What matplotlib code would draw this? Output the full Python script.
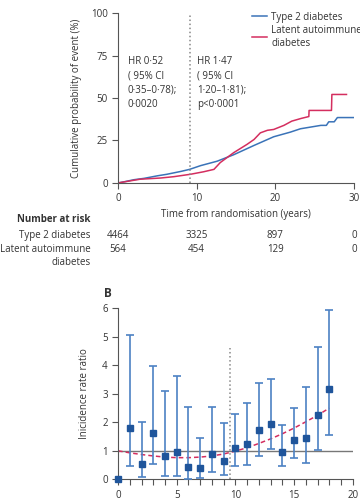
import matplotlib
matplotlib.use("Agg")
from matplotlib import pyplot as plt
import numpy as np

plt.rcParams['font.family'] = ['Open Sans', 'DejaVu Sans']
plt.rcParams['font.size'] = 7
plt.rcParams['text.color'] = '#333333'
plt.rcParams['axes.labelcolor'] = '#333333'
plt.rcParams['xtick.color'] = '#333333'
plt.rcParams['ytick.color'] = '#333333'

# panel A: cumulative probability (%)
t2d_t = [0, 1, 2, 3.3, 5, 6.2, 8, 9.1, 10.5, 12.6, 14.7, 17.3, 19.8, 21.9, 23.2, 25.8, 26.5, 26.8, 27.5, 27.9, 30]
t2d_p = [0, 0.9, 1.9, 2.7, 4.2, 5.1, 6.8, 8.0, 10.2, 12.8, 16.6, 22.1, 27.2, 29.9, 31.9, 33.9, 33.9, 36.0, 36.0, 38.5, 38.5]
lada_t = [0, 1, 2.8, 5.4, 7.1, 9.2, 10.9, 12.2, 13.0, 14.7, 16.4, 17.3, 18.1, 19.0, 19.8, 21.1, 22.1, 23.3, 24.27, 24.3, 27.15, 27.2, 29.06]
lada_p = [0, 0.8, 2.2, 2.9, 3.7, 5.1, 6.6, 8.0, 12.0, 17.8, 22.7, 25.6, 29.5, 31.0, 31.5, 33.9, 36.4, 38.0, 39.1, 42.7, 42.7, 52.1, 52.1]

risk_times = [0, 10, 20, 30]
risk_t2d = [4464, 3325, 897, 0]
risk_lada = [564, 454, 129, 0]

# panel B: incidence rate ratio by year
years = list(range(19))
irr = [0, 1.79, 0.54, 1.61, 0.82, 0.95, 0.43, 0.39, 0.90, 0.64, 1.09, 1.23, 1.73, 1.95, 0.97, 1.38, 1.46, 2.27, 3.17]
irr_lo = [0, 0.48, 0.09, 0.54, 0.12, 0.13, 0.01, 0.03, 0.25, 0.15, 0.47, 0.50, 0.83, 1.05, 0.48, 0.74, 0.57, 1.03, 1.56]
irr_hi = [0, 5.06, 2.02, 3.98, 3.10, 3.64, 2.53, 1.46, 2.55, 1.99, 2.30, 2.67, 3.37, 3.52, 1.89, 2.51, 3.24, 4.63, 5.96]
fit = [1.0, 0.93, 0.87, 0.82, 0.78, 0.76, 0.76, 0.78, 0.82, 0.89, 0.99, 1.11, 1.26, 1.42, 1.60, 1.80, 2.02, 2.25, 2.50]

blue = '#3a73b8'
red = '#d42e5f'
grey = '#555555'

fig = plt.figure(figsize=(3.6, 5.04), dpi=100)

# ---- panel A ----
ax = fig.add_axes([0.328, 0.637, 0.655, 0.337])
ax.plot(t2d_t, t2d_p, color=blue, lw=1.1, label='Type 2 diabetes')
ax.plot(lada_t, lada_p, color=red, lw=1.1, label='Latent autoimmune\ndiabetes')
ax.axvline(9.1, color='#888888', ls=':', lw=1.1)
ax.set_xlim(0, 30)
ax.set_ylim(0, 100)
ax.set_xticks([0, 10, 20, 30])
ax.set_yticks([0, 25, 50, 75, 100])
ax.spines['top'].set_visible(False)
ax.spines['right'].set_visible(False)
for s in ['left', 'bottom']:
    ax.spines[s].set_color(grey)
ax.tick_params(length=4, width=0.8, color=grey)
ax.set_ylabel('Cumulative probability of event (%)', labelpad=6)
ax.set_xlabel('Time from randomisation (years)', labelpad=3)
ax.legend(loc='upper left', bbox_to_anchor=(0.53, 1.06), frameon=False,
          handlelength=1.6, handletextpad=0.4, labelspacing=0.25, fontsize=7)

ax.text(1.2, 75, 'HR 0·52\n( 95% CI\n0·35–0·78);\n0·0020', va='top', linespacing=1.45)
ax.text(10.0, 75, 'HR 1·47\n( 95% CI\n1·20–1·81);\np<0·0001', va='top', linespacing=1.45)

# number at risk table
ax.text(-3.5, -21.8, 'Number at risk', ha='right', va='center', fontweight='bold', clip_on=False)
ax.text(-3.5, -31.2, 'Type 2 diabetes', ha='right', va='center', clip_on=False)
ax.text(-3.5, -39.4, 'Latent autoimmune', ha='right', va='center', clip_on=False)
ax.text(-3.5, -47.0, 'diabetes', ha='right', va='center', clip_on=False)
for t, a, b in zip(risk_times, risk_t2d, risk_lada):
    ax.text(t, -31.2, str(a), ha='center', va='center', clip_on=False)
    ax.text(t, -39.4, str(b), ha='center', va='center', clip_on=False)

# ---- panel B ----
bx = fig.add_axes([0.328, 0.049, 0.652, 0.339])
bx.axhline(1, color='#777777', lw=1.0, zorder=1)
bx.plot([9.5, 9.5], [0, 4.6], color='#888888', ls=':', lw=1.1, zorder=1)
bx.plot(years, fit, color=red, ls=(0, (3, 2)), lw=1.1, zorder=2)
yerr = [np.array(irr) - np.array(irr_lo), np.array(irr_hi) - np.array(irr)]
bx.errorbar(years, irr, yerr=yerr, fmt='none', ecolor='#4d82c4', elinewidth=1.2,
            capsize=3, capthick=1.2, zorder=3)
bx.plot(years, irr, 's', color='#1f559b', ms=5, zorder=4, clip_on=False)
bx.set_xlim(0, 20)
bx.set_ylim(0, 6)
bx.set_xticks([0, 5, 10, 15, 20])
bx.set_xticks(range(21), minor=True)
bx.set_yticks(range(7))
bx.spines['top'].set_visible(False)
bx.spines['right'].set_visible(False)
for s in ['left', 'bottom']:
    bx.spines[s].set_color(grey)
bx.tick_params(which='both', length=4, width=0.8, color=grey)
bx.set_ylabel('Inicidence rate ratio', labelpad=9)
fig.text(0.29, 0.41, 'B', fontweight='bold', fontsize=8.5)

fig.savefig('out.png', dpi=100)
